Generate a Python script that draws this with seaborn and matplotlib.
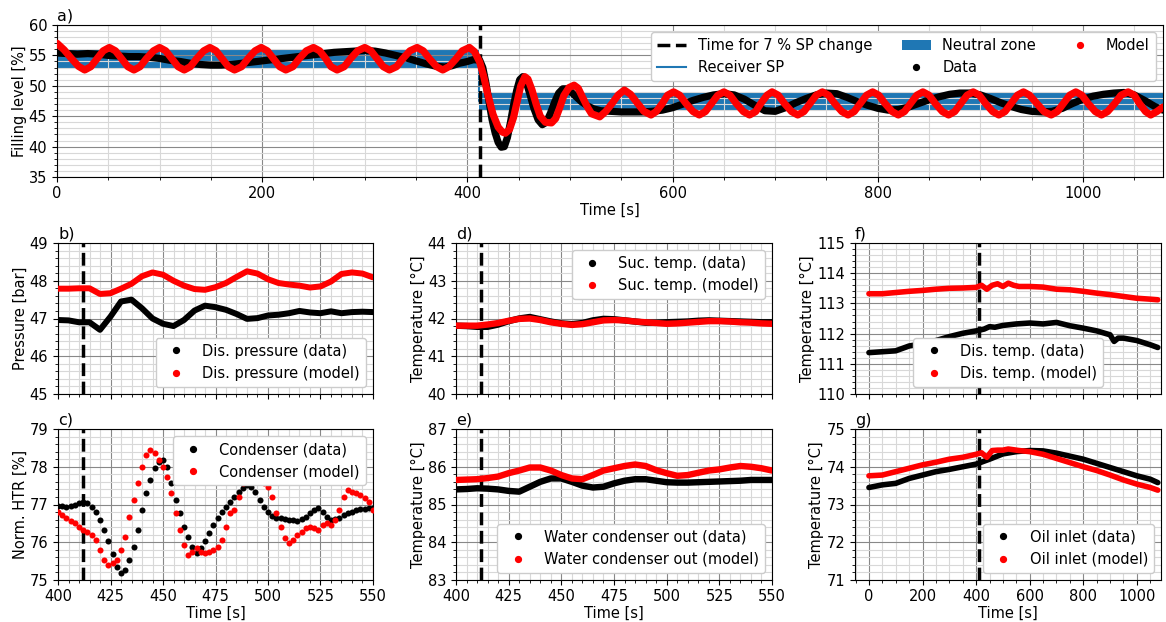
import matplotlib
matplotlib.use('Agg')
import matplotlib.pyplot as plt
from matplotlib.ticker import MultipleLocator
from matplotlib.lines import Line2D
from matplotlib.patches import Patch
import numpy as np
import seaborn as sns

plt.rcParams['font.family'] = ['DejaVu Sans']
plt.rcParams['font.size'] = 10.5
plt.rcParams['axes.labelpad'] = 1.5
plt.rcParams['xtick.major.pad'] = 3

SP_TIME = 412

# ---------------- a) filling level ----------------
model_a_t = [0, 7, 14, 21, 27, 33, 39, 45, 51, 57, 63, 69, 75, 81, 87, 94, 100, 106, 112, 118, 124,
             130, 136, 143, 149, 155, 161, 167, 173, 180, 186, 193, 199, 205, 211, 217, 223,
             230, 236, 243, 250, 256, 262, 267, 273, 280, 286, 293, 300, 306, 312, 318, 324,
             331, 337, 344, 351, 357, 363, 370, 376, 382, 389, 395, 402,
             407, 412, 416, 420, 425, 430, 434, 437, 441, 445, 449, 452, 456, 459, 463, 467,
             471, 476, 482, 486, 490, 494, 499, 504, 508, 512, 517, 521, 529,
             535, 541, 547, 553, 559, 566, 572, 579,
             584, 590, 595, 601, 607, 613, 620, 626, 632, 638, 644, 650, 656, 662, 669, 675,
             681, 686, 692, 697, 703, 709, 716, 722, 728, 734, 740, 746, 752, 758, 765, 771,
             777, 783, 789, 795, 801, 807, 814, 820, 826, 832, 838, 844, 850, 856, 863, 869,
             875, 881, 887, 893, 899, 905, 912, 918, 924, 930, 936, 942, 948, 955, 962, 969,
             975, 981, 987, 993, 999, 1005, 1012, 1018, 1024, 1031, 1037, 1044, 1050, 1055, 1061, 1066,
             1072, 1078]
model_a = [57.0, 55.9, 54.5, 53.2, 52.6,
           53.15, 54.45, 55.75, 56.3, 55.75, 54.45, 53.15, 52.6,
           53.15, 54.45, 55.75, 56.3, 55.75, 54.45, 53.15, 52.6,
           53.15, 54.45, 55.75, 56.3, 55.75, 54.45, 53.15, 52.6,
           53.15, 54.45, 55.75, 56.3, 55.75, 54.45, 53.15, 52.6,
           53.15, 54.45, 55.75, 56.3, 55.75, 54.45, 53.15, 52.6,
           53.15, 54.45, 55.75, 56.3, 55.75, 54.45, 53.15, 52.6,
           53.15, 54.45, 55.75, 56.3, 55.75, 54.45, 53.15, 52.6,
           53.15, 54.45, 55.75, 56.3,
           55.6, 53.9, 51.5, 48.5, 45.3, 43.2, 42.4, 42.2, 42.8, 44.8, 47.8, 50.0, 51.5, 51.1, 49.3, 47.0,
           45.0, 44.0, 43.9, 44.6, 46.4, 48.4, 49.7, 50.1, 49.6, 48.2, 46.5, 45.4, 44.9,
           45.8, 47.1, 48.5, 49.3, 48.6, 47.1, 45.8, 45.2,
           45.76, 47.1, 48.45, 49.0, 48.45, 47.1, 45.76, 45.2, 45.76, 47.1, 48.45, 49.0, 48.45, 47.1, 45.76, 45.2,
           45.76, 47.1, 48.45, 49.0, 48.45, 47.1, 45.76, 45.2, 45.76, 47.1, 48.45, 49.0, 48.45, 47.1, 45.76, 45.2,
           45.76, 47.1, 48.45, 49.0, 48.45, 47.1, 45.76, 45.2, 45.76, 47.1, 48.45, 49.0, 48.45, 47.1, 45.76, 45.2,
           45.76, 47.1, 48.45, 49.0, 48.45, 47.1, 45.76, 45.2, 45.76, 47.1, 48.45, 49.0, 48.45, 47.1, 45.76, 45.2,
           45.76, 47.1, 48.45, 49.0, 48.45, 47.1, 45.76, 45.2, 45.76, 47.1, 48.45, 49.0, 48.45, 47.1, 45.76, 45.2,
           45.76, 46.5]

data_a_t = [0, 10, 20, 30, 40, 50, 60, 70, 80, 90, 100, 110, 120, 130, 140, 150, 160, 170, 180, 190,
            200, 210, 220, 230, 240, 250, 260, 270, 280, 290, 300, 310, 320, 330, 340, 350, 360, 370,
            378, 385, 392, 400, 406, 412,
            415, 418, 421, 424, 427, 430, 433, 436, 439, 442, 445, 448, 451, 454, 457, 461, 465, 469,
            473, 477, 481, 485, 489, 493, 497, 501, 506, 511, 517, 523, 530,
            540, 550, 560, 570, 580, 590, 600, 610, 620, 630, 640, 650, 660, 670, 680, 690, 700, 710,
            720, 730, 740, 750, 760, 770, 780, 790, 800, 810, 820, 830, 840, 850, 860, 870, 880, 890,
            900, 910, 920, 930, 940, 950, 960, 970, 980, 990, 1000, 1010, 1020, 1030, 1040, 1050,
            1060, 1070, 1078]
data_a = [55.4, 55.3, 55.2, 55.3, 55.2, 55.0, 54.9, 54.8, 54.8, 54.7, 54.5, 54.2, 54.0, 53.7, 53.5,
          53.4, 53.4, 53.5, 53.7, 53.9, 54.1, 54.3, 54.5, 54.7, 54.9, 55.1, 55.3, 55.5, 55.6, 55.7,
          55.8, 55.7, 55.4, 55.0, 54.6, 54.1, 53.6, 53.2, 53.1, 53.3, 53.7, 54.0, 54.3, 54.2,
          53.0, 50.5, 47.5, 44.5, 42.3, 40.7, 39.9, 40.0, 41.5, 44.0, 46.8, 49.2, 51.0, 51.5, 50.8,
          48.6, 46.2, 44.4, 43.6, 44.0, 45.5, 47.3, 48.8, 49.5, 49.5, 49.0, 48.2, 47.4, 46.7, 46.2, 45.9,
          45.8, 45.7, 45.7, 45.7, 45.8, 46.0, 46.4, 47.0, 47.6, 48.1, 48.5, 48.7, 48.5, 47.8, 46.8,
          45.9, 45.8, 46.4, 47.2, 47.9, 48.5, 48.8, 48.7, 48.1, 47.4, 46.8, 46.3, 46.0, 46.1, 46.5,
          47.1, 47.7, 48.2, 48.6, 48.8, 48.8, 48.5, 47.9, 47.2, 46.6, 46.1, 45.8, 45.7, 45.8, 46.3,
          47.1, 47.8, 48.3, 48.6, 48.8, 48.9, 48.5, 47.6, 46.6, 46.0]

sp_t = [0, 411, 411, 1078]
sp_level = [54.5, 54.5, 47.5, 47.5]
nz_before = [0, 411]
nz_after = [411, 1078]
nz_low = [53.0, 46.0]
nz_high = [56.0, 49.0]

# ---------------- b) - e) zoomed panels ----------------
t_zoom = np.arange(400, 551, 5)
press_model = [47.79, 47.79, 47.8, 47.8, 47.65, 47.67, 47.79, 47.92, 48.12, 48.22, 48.16, 48.0, 47.87,
               47.78, 47.76, 47.83, 47.94, 48.1, 48.25, 48.19, 48.04, 47.94, 47.9, 47.87, 47.82, 47.85,
               47.98, 48.18, 48.22, 48.19, 48.09]
press_data = [46.96, 46.95, 46.9, 46.9, 46.7, 47.05, 47.45, 47.5, 47.27, 47.0, 46.86, 46.8, 46.96,
              47.21, 47.34, 47.3, 47.23, 47.12, 46.99, 47.01, 47.08, 47.1, 47.14, 47.2, 47.16, 47.14,
              47.19, 47.14, 47.17, 47.18, 47.17]

suc_model = [41.81, 41.81, 41.81, 41.84, 41.88, 41.94, 41.99, 42.0, 41.96, 41.9, 41.86, 41.83, 41.85,
             41.9, 41.95, 41.96, 41.95, 41.92, 41.9, 41.88, 41.86, 41.87, 41.89, 41.91, 41.93, 41.93,
             41.92, 41.9, 41.89, 41.87, 41.86]
suc_data = [41.81, 41.8, 41.78, 41.78, 41.84, 41.93, 42.0, 42.04, 41.98, 41.92, 41.87, 41.85, 41.88,
            41.95, 41.99, 41.98, 41.95, 41.92, 41.89, 41.89, 41.9, 41.91, 41.92, 41.94, 41.95, 41.94,
            41.93, 41.92, 41.91, 41.9, 41.9]

water_model = [85.65, 85.66, 85.67, 85.7, 85.74, 85.83, 85.9, 85.98, 85.98, 85.9, 85.78, 85.69, 85.67,
               85.78, 85.9, 85.96, 86.02, 86.06, 86.02, 85.91, 85.83, 85.76, 85.78, 85.84, 85.9, 85.93,
               85.98, 86.02, 86.0, 85.96, 85.9]
water_data = [85.4, 85.41, 85.43, 85.42, 85.4, 85.36, 85.34, 85.47, 85.6, 85.69, 85.69, 85.6, 85.5,
              85.45, 85.47, 85.56, 85.63, 85.67, 85.67, 85.63, 85.59, 85.58, 85.58, 85.59, 85.6, 85.61,
              85.62, 85.63, 85.65, 85.65, 85.65]

t_htr = np.arange(400, 551, 2)
htr_data = [76.96, 76.95, 76.94, 76.96, 77.0, 77.03, 77.07, 77.03, 76.94, 76.8, 76.59, 76.33, 76.02,
            75.7, 75.35, 75.18, 75.26, 75.53, 75.88, 76.32, 76.85, 77.3, 77.65, 77.96, 78.13, 78.18,
            78.0, 77.56, 77.12, 76.77, 76.41, 76.15, 75.88, 75.71, 75.84, 76.02, 76.24, 76.46, 76.63,
            76.81, 76.94, 77.07, 77.2, 77.34, 77.43, 77.52, 77.47, 77.34, 77.12, 76.94, 76.81, 76.7,
            76.65, 76.63, 76.61, 76.59, 76.58, 76.57, 76.62, 76.68, 76.77, 76.85, 76.92, 76.81, 76.66,
            76.59, 76.62, 76.65, 76.71, 76.77, 76.81, 76.85, 76.87, 76.88, 76.9, 76.92]
htr_model = [76.81, 76.72, 76.63, 76.56, 76.5, 76.4, 76.32, 76.26, 76.19, 76.06, 75.79, 75.53, 75.4,
             75.44, 75.53, 75.79, 76.15, 76.68, 77.12, 77.56, 78.0, 78.31, 78.44, 78.36, 78.18, 78.0,
             77.74, 77.3, 76.77, 76.32, 75.93, 75.66, 75.75, 75.84, 75.75, 75.71, 75.75, 75.79, 75.88,
             76.06, 76.41, 76.77, 76.85, 77.2, 77.56, 77.83, 77.96, 77.96, 77.83, 77.56, 77.47, 77.2,
             76.77, 76.41, 76.1, 75.97, 76.06, 76.19, 76.28, 76.37, 76.41, 76.37, 76.32, 76.46, 76.5,
             76.46, 76.59, 76.85, 77.2, 77.38, 77.34, 77.3, 77.25, 77.16, 77.07, 76.85]

# ---------------- f) g) full-length panels ----------------
t_model_long = [0, 50, 100, 150, 200, 250, 300, 350, 400, 420, 440, 460, 480, 500, 520, 540, 560,
                600, 650, 700, 750, 800, 850, 900, 950, 1000, 1050, 1078]
dis_model = [113.32, 113.32, 113.36, 113.4, 113.43, 113.47, 113.5, 113.51, 113.53, 113.6, 113.47,
             113.6, 113.65, 113.56, 113.67, 113.6, 113.56, 113.56, 113.54, 113.47, 113.45, 113.4,
             113.34, 113.29, 113.23, 113.17, 113.14, 113.12]
oil_model = [73.76, 73.78, 73.87, 73.96, 74.05, 74.12, 74.2, 74.25, 74.33, 74.37, 74.25, 74.43, 74.44,
             74.44, 74.47, 74.45, 74.43, 74.4, 74.33, 74.22, 74.11, 74.0, 73.9, 73.78, 73.65, 73.54,
             73.45, 73.38]
t_dis_data = [0, 50, 100, 150, 200, 250, 300, 350, 400, 430, 450, 470, 500, 550, 600, 650, 700, 750,
              800, 850, 900, 915, 930, 950, 1000, 1050, 1078]
dis_data = [111.37, 111.4, 111.43, 111.59, 111.66, 111.77, 111.9, 112.01, 112.09, 112.15, 112.23,
            112.21, 112.27, 112.32, 112.35, 112.32, 112.37, 112.26, 112.18, 112.09, 111.96, 111.74,
            111.85, 111.85, 111.77, 111.63, 111.54]
t_oil_data = [0, 50, 100, 150, 200, 250, 300, 350, 400, 450, 500, 550, 600, 650, 700, 750, 800, 850,
              900, 950, 1000, 1050, 1078]
oil_data = [73.45, 73.52, 73.56, 73.69, 73.78, 73.87, 73.93, 74.0, 74.07, 74.2, 74.34, 74.4, 74.43,
            74.42, 74.36, 74.28, 74.2, 74.09, 73.98, 73.87, 73.76, 73.67, 73.58]

BLUE = '#1f77b4'


def style_axis(ax, xmaj, xmin, ymaj, ymin):
    ax.xaxis.set_major_locator(MultipleLocator(xmaj))
    ax.xaxis.set_minor_locator(MultipleLocator(xmin))
    ax.yaxis.set_major_locator(MultipleLocator(ymaj))
    ax.yaxis.set_minor_locator(MultipleLocator(ymin))
    ax.grid(which='major', color='#888888', linewidth=0.8)
    ax.grid(which='minor', color='#d8d8d8', linewidth=0.8)
    ax.tick_params(which='both', direction='out')


def curve(ax, t, v, color, lw):
    sns.lineplot(x=t, y=v, ax=ax, color=color, linewidth=lw, estimator=None, sort=False,
                 legend=False, solid_capstyle='round', solid_joinstyle='round', zorder=3)


def pair_legend(ax, labels, loc):
    handles = [Line2D([], [], color='k', marker='o', ls='', ms=4.2),
               Line2D([], [], color='red', marker='o', ls='', ms=4.2)]
    ax.legend(handles, labels, loc=loc, framealpha=1)


fig = plt.figure(figsize=(11.66, 6.22), dpi=100)
W, H = 1166, 622


def add_ax(left, top, right, bottom):
    return fig.add_axes([left / W, 1 - bottom / H, (right - left) / W, (bottom - top) / H])


# a)
ax = add_ax(57, 25, 1163, 177)
for xs, lo, hi in [(nz_before, nz_low[0], nz_high[0]), (nz_after, nz_low[1], nz_high[1])]:
    ax.fill_between(xs, [lo, lo], [hi, hi], color=BLUE, linewidth=0, zorder=1)
sns.lineplot(x=sp_t, y=sp_level, ax=ax, color=BLUE, linewidth=1.5, estimator=None, sort=False,
             legend=False, zorder=1.2)
ax.axvline(SP_TIME, color='k', ls='--', lw=2.5, zorder=2.5)
curve(ax, data_a_t, data_a, 'k', 5.2)
curve(ax, model_a_t, model_a, 'red', 5.2)
ax.set_xlim(0, 1078)
ax.set_ylim(35, 60)
style_axis(ax, 200, 50, 5, 1)
ax.set_xlabel('Time [s]')
ax.set_ylabel('Filling level [%]')
ax.set_title('a)', loc='left', pad=3, fontsize=11.5)
handles = [Line2D([], [], color='k', ls='--', lw=2.5),
           Line2D([], [], color=BLUE, lw=1.5),
           Patch(facecolor=BLUE),
           Line2D([], [], color='k', marker='o', ls='', ms=4.2),
           Line2D([], [], color='red', marker='o', ls='', ms=4.2)]
ax.legend(handles, ['Time for 7 % SP change', 'Receiver SP', 'Neutral zone', 'Data', 'Model'],
          ncol=3, loc='upper right', framealpha=1)

cols = [(58, 373), (456, 772), (855, 1161)]
rows = [(243, 394), (429, 580)]

# b)
ax = add_ax(cols[0][0], rows[0][0], cols[0][1], rows[0][1])
ax.axvline(SP_TIME, color='k', ls='--', lw=2.5, zorder=2.5)
curve(ax, t_zoom, press_data, 'k', 4.3)
curve(ax, t_zoom, press_model, 'red', 4.3)
ax.set_xlim(400, 550)
ax.set_ylim(45, 49)
style_axis(ax, 25, 5, 1, 0.2)
ax.tick_params(labelbottom=False)
ax.set_ylabel('Pressure [bar]')
ax.set_title('b)', loc='left', pad=3, fontsize=11.5)
pair_legend(ax, ['Dis. pressure (data)', 'Dis. pressure (model)'], 'lower right')

# c)
ax = add_ax(cols[0][0], rows[1][0], cols[0][1], rows[1][1])
ax.axvline(SP_TIME, color='k', ls='--', lw=2.5, zorder=2.5)
sns.scatterplot(x=t_htr, y=htr_data, ax=ax, color='k', s=19, linewidth=0, zorder=3, legend=False)
sns.scatterplot(x=t_htr, y=htr_model, ax=ax, color='red', s=19, linewidth=0, zorder=3, legend=False)
ax.set_xlim(400, 550)
ax.set_ylim(75, 79)
style_axis(ax, 25, 5, 1, 0.2)
ax.set_xlabel('Time [s]')
ax.set_ylabel('Norm. HTR [%]')
ax.set_title('c)', loc='left', pad=3, fontsize=11.5)
pair_legend(ax, ['Condenser (data)', 'Condenser (model)'], 'upper right')

# d)
ax = add_ax(cols[1][0], rows[0][0], cols[1][1], rows[0][1])
ax.axvline(SP_TIME, color='k', ls='--', lw=2.5, zorder=2.5)
curve(ax, t_zoom, suc_data, 'k', 4.6)
curve(ax, t_zoom, suc_model, 'red', 4.6)
ax.set_xlim(400, 550)
ax.set_ylim(40, 44)
style_axis(ax, 25, 5, 1, 0.2)
ax.tick_params(labelbottom=False)
ax.set_ylabel('Temperature [°C]')
ax.set_title('d)', loc='left', pad=3, fontsize=11.5)
pair_legend(ax, ['Suc. temp. (data)', 'Suc. temp. (model)'], 'upper right')

# e)
ax = add_ax(cols[1][0], rows[1][0], cols[1][1], rows[1][1])
ax.axvline(SP_TIME, color='k', ls='--', lw=2.5, zorder=2.5)
curve(ax, t_zoom, water_data, 'k', 4.6)
curve(ax, t_zoom, water_model, 'red', 4.6)
ax.set_xlim(400, 550)
ax.set_ylim(83, 87)
style_axis(ax, 25, 5, 1, 0.2)
ax.set_xlabel('Time [s]')
ax.set_ylabel('Temperature [°C]')
ax.set_title('e)', loc='left', pad=3, fontsize=11.5)
pair_legend(ax, ['Water condenser out (data)', 'Water condenser out (model)'], 'lower right')

# f)
ax = add_ax(cols[2][0], rows[0][0], cols[2][1], rows[0][1])
ax.axvline(SP_TIME, color='k', ls='--', lw=2.5, zorder=2.5)
curve(ax, t_dis_data, dis_data, 'k', 4.0)
curve(ax, t_model_long, dis_model, 'red', 4.0)
ax.set_xlim(-52, 1090)
ax.set_ylim(110, 115)
style_axis(ax, 200, 50, 1, 0.2)
ax.tick_params(labelbottom=False)
ax.set_ylabel('Temperature [°C]')
ax.set_title('f)', loc='left', pad=3, fontsize=11.5)
pair_legend(ax, ['Dis. temp. (data)', 'Dis. temp. (model)'], 'lower center')

# g)
ax = add_ax(cols[2][0], rows[1][0], cols[2][1], rows[1][1])
ax.axvline(SP_TIME, color='k', ls='--', lw=2.5, zorder=2.5)
curve(ax, t_oil_data, oil_data, 'k', 4.0)
curve(ax, t_model_long, oil_model, 'red', 4.0)
ax.set_xlim(-52, 1090)
ax.set_ylim(71, 75)
style_axis(ax, 200, 50, 1, 0.2)
ax.set_xlabel('Time [s]')
ax.set_ylabel('Temperature [°C]')
ax.set_title('g)', loc='left', pad=3, fontsize=11.5)
pair_legend(ax, ['Oil inlet (data)', 'Oil inlet (model)'], 'lower right')

fig.savefig('out.png', dpi=100)
